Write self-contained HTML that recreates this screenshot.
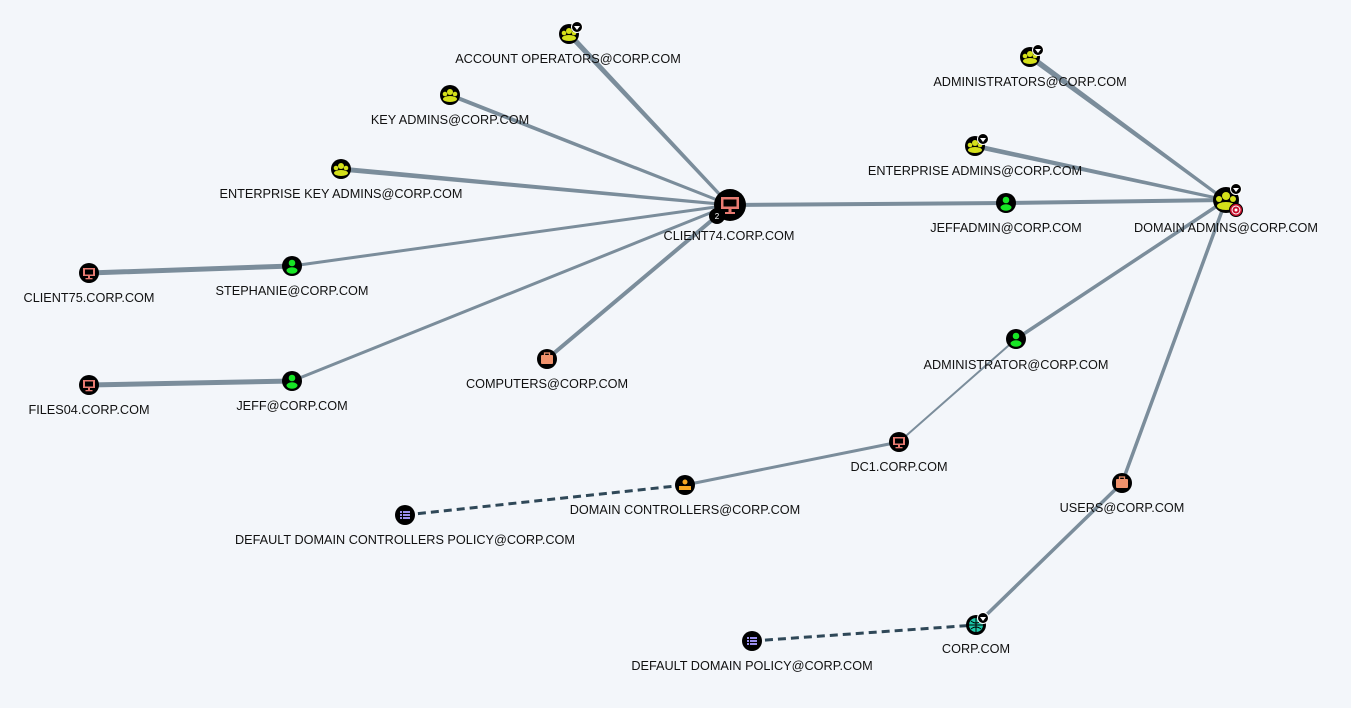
<!DOCTYPE html>
<html><head><meta charset="utf-8"><style>
html,body{margin:0;padding:0;background:#f3f6fa;}
svg{display:block}
text{font-family:"Liberation Sans",Arial,sans-serif;font-size:12.7px;fill:#111;text-anchor:middle}
</style></head><body>
<svg width="1351" height="708" viewBox="0 0 1351 708">
<rect width="1351" height="708" fill="#f3f6fa"/>
<g stroke="#7b8d9b" stroke-linecap="round" fill="#7b8d9b">
<polygon points="567,35 571,33 731,205 729,206"/>
<polygon points="449,93 451,97 730,206 730,204"/>
<polygon points="341,167 341,171 730,206 730,204" />
<line x1="292" y1="266" x2="730" y2="205" stroke-width="3"/>
<line x1="292" y1="381" x2="730" y2="205" stroke-width="3"/>
<line x1="547" y1="359" x2="730" y2="205" stroke-width="4"/>
<line x1="730" y1="205" x2="1006" y2="203" stroke-width="4"/>
<line x1="1006" y1="203" x2="1226" y2="200" stroke-width="4"/>
<line x1="89" y1="273" x2="292" y2="266" stroke-width="5"/>
<line x1="89" y1="385" x2="292" y2="381" stroke-width="5"/>
<polygon points="1028,58 1032,55 1227,200 1225,201"/>
<polygon points="975,144 975,148 1226,201 1226,199"/>
<line x1="1016" y1="339" x2="1226" y2="200" stroke-width="3.5"/>
<line x1="899" y1="442" x2="1016" y2="339" stroke-width="2"/>
<line x1="685" y1="485" x2="899" y2="442" stroke-width="3"/>
<line x1="1122" y1="483" x2="1226" y2="200" stroke-width="3.5"/>
<line x1="976" y1="625" x2="1122" y2="483" stroke-width="3.5"/>
</g>
<g stroke="#2f4858" stroke-width="3" stroke-dasharray="8,5">
<line x1="405" y1="515" x2="685" y2="485"/>
<line x1="752" y1="641" x2="976" y2="625"/>
</g>
<defs>
<g id="grp"><circle r="10" fill="#000"/><circle cx="0" cy="-3" r="3" fill="#d4e01a"/><circle cx="-5" cy="-1" r="2.3" fill="#d4e01a"/><circle cx="5" cy="-1" r="2.3" fill="#d4e01a"/><ellipse cx="0" cy="4" rx="7" ry="3" fill="#d4e01a"/></g>
<g id="usr"><circle r="10" fill="#000"/><circle cy="-3" r="3.3" fill="#17e625"/><ellipse cy="4.5" rx="5.5" ry="3.2" fill="#17e625"/></g>
<g id="cmp"><circle r="10" fill="#000"/><rect x="-6" y="-5" width="12" height="8" fill="#e87b72"/><rect x="-4" y="-3.5" width="8" height="5" fill="#000"/><rect x="-1" y="3" width="2" height="2" fill="#e87b72"/><rect x="-3.5" y="5" width="7" height="1.3" fill="#e87b72"/></g>
<g id="ou"><circle r="10" fill="#000"/><rect x="-6" y="-4" width="12" height="9" rx="1" fill="#f0926c"/><rect x="-2.5" y="-6" width="5" height="3" fill="none" stroke="#f0926c" stroke-width="1.3"/></g>
<g id="gpo"><circle r="10" fill="#000"/><g fill="#998eed"><rect x="-5" y="-4" width="2" height="2"/><rect x="-2" y="-4" width="7" height="2"/><rect x="-5" y="-1" width="2" height="2"/><rect x="-2" y="-1" width="7" height="2"/><rect x="-5" y="2" width="2" height="2"/><rect x="-2" y="2" width="7" height="2"/></g></g>
<g id="badge"><circle r="5.5" fill="#000" stroke="#fff" stroke-width="1"/><path d="M-3,-1 L3,-1 L0,3Z" fill="#fff"/></g>
</defs>
<use href="#grp" x="569" y="34"/><use href="#badge" x="577" y="27"/>
<use href="#grp" x="450" y="95"/>
<use href="#grp" x="341" y="169"/>
<use href="#grp" x="1030" y="57"/><use href="#badge" x="1038" y="50"/>
<use href="#grp" x="975" y="146"/><use href="#badge" x="983" y="139"/>
<use href="#usr" x="292" y="266"/>
<use href="#usr" x="292" y="381"/>
<use href="#usr" x="1006" y="203"/>
<use href="#usr" x="1016" y="339"/>
<use href="#cmp" x="89" y="273"/>
<use href="#cmp" x="89" y="385"/>
<use href="#cmp" x="899" y="442"/>
<use href="#ou" x="547" y="359"/>
<use href="#ou" x="1122" y="483"/>
<use href="#gpo" x="405" y="515"/>
<use href="#gpo" x="752" y="641"/>
<g transform="translate(685,485)"><circle r="10" fill="#000"/><g fill="#f5a623"><circle cy="-3" r="2.5"/><rect x="-6" y="1" width="4" height="4"/><rect x="-2" y="1" width="4" height="4"/><rect x="2" y="1" width="4" height="4"/></g></g>
<g transform="translate(976,625)"><circle r="10" fill="#000"/><circle r="7" fill="#1cc8a8"/><path d="M-7,0H7M0,-7V7M-5,-4Q0,0 5,-4M-5,4Q0,0 5,4" stroke="#000" stroke-width="1" fill="none"/></g>
<use href="#badge" x="983" y="618"/>
<g transform="translate(730,205)"><circle r="16" fill="#000"/><rect x="-9" y="-8" width="18" height="12" fill="#e87b72"/><rect x="-6.5" y="-5.5" width="13" height="7" fill="#000"/><rect x="-1.5" y="4" width="3" height="3" fill="#e87b72"/><rect x="-5" y="7" width="10" height="2" fill="#e87b72"/></g>
<circle cx="717" cy="216" r="8" fill="#000"/><text x="717" y="219" style="font-size:8px;fill:#fff">2</text>
<g transform="translate(1226,200)"><circle r="13" fill="#000"/><circle cy="-4" r="4" fill="#d4e01a"/><circle cx="-7" cy="-1" r="3" fill="#d4e01a"/><circle cx="7" cy="-1" r="3" fill="#d4e01a"/><ellipse cy="6" rx="9" ry="4" fill="#d4e01a"/></g>
<use href="#badge" x="1236" y="189"/>
<circle cx="1236" cy="210" r="6.5" fill="#c8102e" stroke="#000" stroke-width="1"/><circle cx="1236" cy="210" r="4" fill="none" stroke="#fff" stroke-width="1"/><circle cx="1236" cy="210" r="1.5" fill="#fff"/>
<text x="568" y="63">ACCOUNT OPERATORS@CORP.COM</text>
<text x="450" y="124">KEY ADMINS@CORP.COM</text>
<text x="341" y="198">ENTERPRISE KEY ADMINS@CORP.COM</text>
<text x="729" y="240">CLIENT74.CORP.COM</text>
<text x="89" y="302">CLIENT75.CORP.COM</text>
<text x="292" y="295">STEPHANIE@CORP.COM</text>
<text x="89" y="414">FILES04.CORP.COM</text>
<text x="292" y="410">JEFF@CORP.COM</text>
<text x="547" y="388">COMPUTERS@CORP.COM</text>
<text x="1030" y="86">ADMINISTRATORS@CORP.COM</text>
<text x="975" y="175">ENTERPRISE ADMINS@CORP.COM</text>
<text x="1006" y="232">JEFFADMIN@CORP.COM</text>
<text x="1226" y="232">DOMAIN ADMINS@CORP.COM</text>
<text x="1016" y="369">ADMINISTRATOR@CORP.COM</text>
<text x="899" y="471">DC1.CORP.COM</text>
<text x="685" y="514">DOMAIN CONTROLLERS@CORP.COM</text>
<text x="405" y="544">DEFAULT DOMAIN CONTROLLERS POLICY@CORP.COM</text>
<text x="1122" y="512">USERS@CORP.COM</text>
<text x="976" y="653">CORP.COM</text>
<text x="752" y="670">DEFAULT DOMAIN POLICY@CORP.COM</text>
</svg>
</body></html>
